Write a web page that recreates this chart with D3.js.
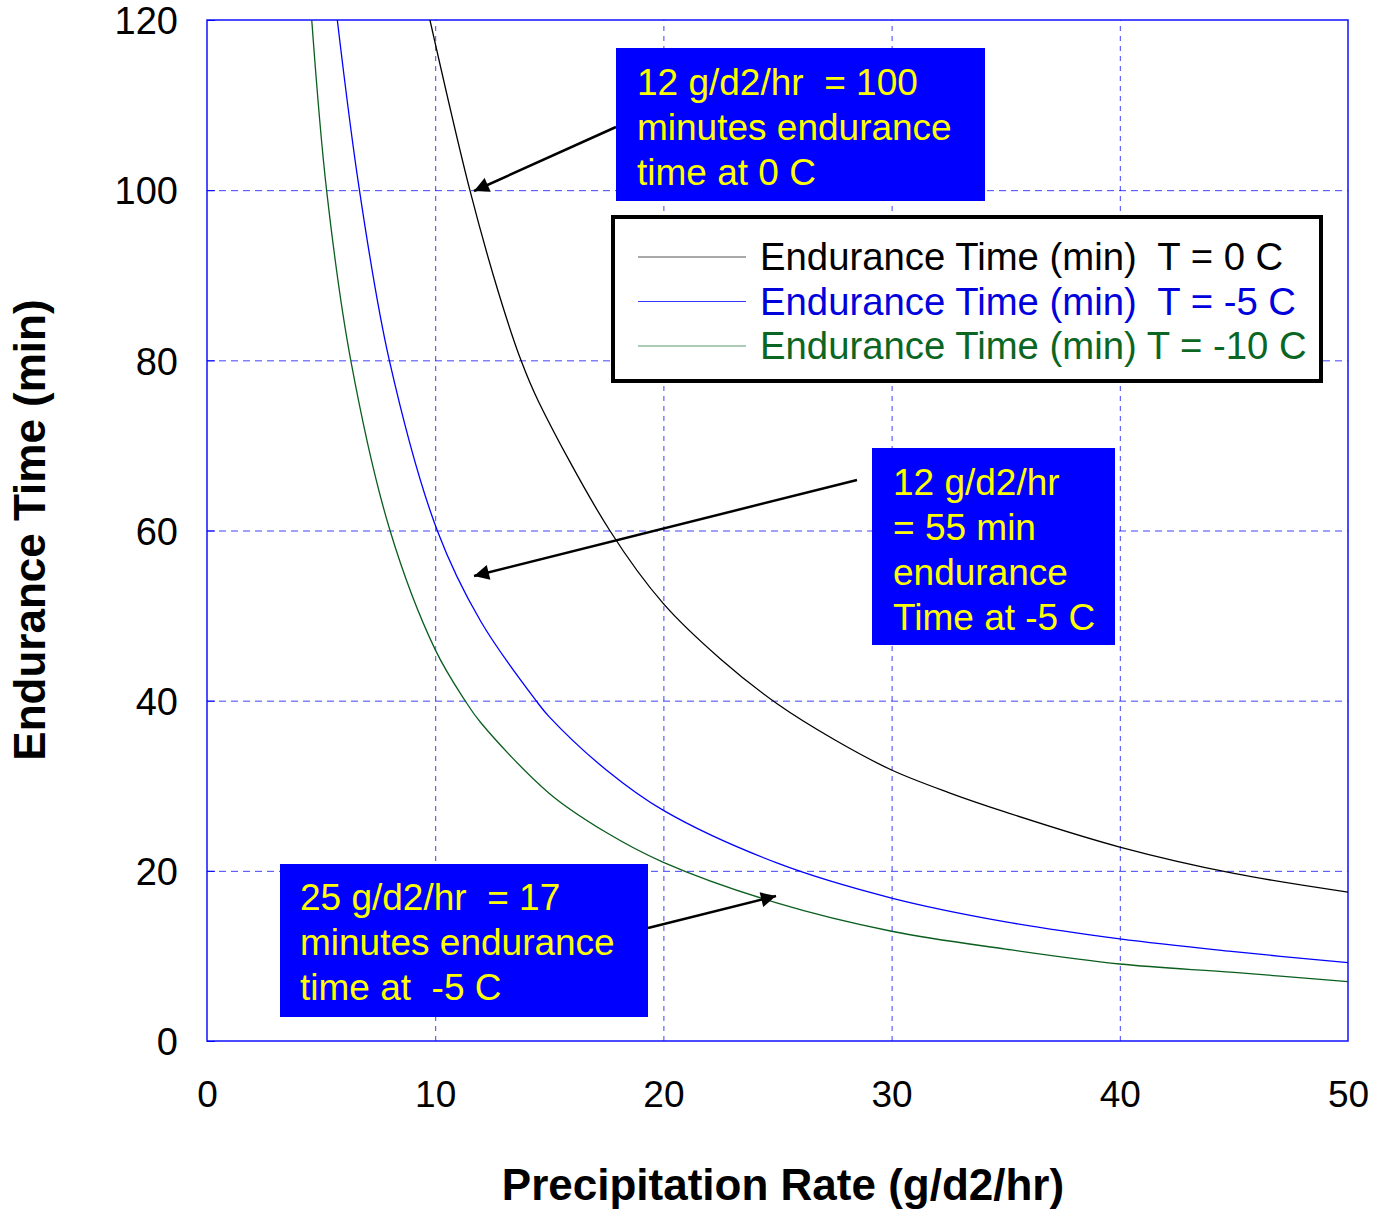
<!DOCTYPE html>
<html lang="en">
<head>
<meta charset="UTF-8">
<title>Endurance time vs precipitation rate</title>
<script src="https://d3js.org/d3.v7.min.js"></script>
<style>
body { margin: 0; background: #fff; }
svg text { font-family: "Liberation Sans", Arial, sans-serif; }
.tick text { font-size: 37px; fill: #000; }
.grid line { stroke: #0000ff; stroke-opacity: 0.75; stroke-width: 1; }
.grid .domain { display: none; }
.axisTitle { font-size: 44px; font-weight: bold; }
.note text { font-size: 37px; fill: #ffff00; }
.legend text { font-size: 38.3px; }
</style>
</head>
<body>
<svg id="chart" width="1376" height="1211"></svg>
<script>
  // values: [precip rate, endurance minutes]
  var seriesT0 = [[9.77,120],[11.52,100],[12.77,88.0],[13.76,80],[14.52,75.2],[17.65,60],[20,51.4],
                  [22.5,44.9],[25,39.6],[27.5,35.4],[30,31.85],[32.5,29.2],[35,26.9],[40,22.8],[45,19.7],[50,17.5]];
  var seriesTm5 = [[5.71,120],[6.68,100],[7.99,80],[10.09,60],[12,49.3],[14.42,40],[15,38.1],[17.5,31.85],
                   [20,27.1],[25,20.9],[30,16.8],[35,14.0],[40,12.0],[45,10.5],[50,9.2]];
  var seriesTm10 = [[4.59,120],[5.24,100],[6.30,80],[8.02,60],[10,46.0],[11.31,40],[12,37.4],[15,29.1],
                    [17.5,24.5],[20,21.0],[25,16.2],[30,12.9],[35,10.8],[40,9.05],[45,8.06],[50,6.98]];

  var seriesNames = ["Endurance Time (min)  T = 0 C", "Endurance Time (min)  T = -5 C", "Endurance Time (min) T = -10 C"];
  var xTicks = [0, 10, 20, 30, 40, 50];
  var yTicks = [0, 20, 40, 60, 80, 100, 120];

  var notes = [
    ["12 g/d2/hr  = 100", "minutes endurance", "time at 0 C"],
    ["12 g/d2/hr", "= 55 min", "endurance", "Time at -5 C"],
    ["25 g/d2/hr  = 17", "minutes endurance", "time at  -5 C"]
  ];

  var svg = d3.select("#chart");

  var x = d3.scaleLinear().domain([0, 50]).range([207, 1348]);
  var y = d3.scaleLinear().domain([0, 120]).range([1041, 20]);

  // gridlines
  svg.append("g")
    .attr("class", "grid")
    .attr("transform", "translate(0,1041)")
    .call(d3.axisBottom(x).tickValues(xTicks.slice(1, -1)).tickSize(-1021).tickFormat(""))
    .selectAll("line").attr("stroke-dasharray", "5,5");

  svg.append("g")
    .attr("class", "grid")
    .attr("transform", "translate(207,0)")
    .call(d3.axisLeft(y).tickValues(yTicks.slice(1, -1)).tickSize(-1141).tickFormat(""))
    .selectAll("line").attr("stroke-dasharray", "7,5");

  // frame
  svg.append("rect")
    .attr("x", x(0)).attr("y", y(120))
    .attr("width", x(50) - x(0)).attr("height", y(0) - y(120))
    .attr("fill", "none").attr("stroke", "#1010ff").attr("stroke-width", 1.5);

  // tick labels
  var xAxis = svg.append("g")
    .attr("transform", "translate(0,1041)")
    .call(d3.axisBottom(x).tickValues(xTicks).tickSize(0).tickPadding(40).tickFormat(d3.format("d")));
  xAxis.select(".domain").remove();

  var yAxis = svg.append("g")
    .attr("transform", "translate(207,0)")
    .call(d3.axisLeft(y).tickValues(yTicks).tickSize(-8).tickPadding(29).tickFormat(d3.format("d")));
  yAxis.select(".domain").remove();
  yAxis.selectAll("line").attr("stroke", "#0000ff");
  yAxis.selectAll("text").attr("dy", "0.36em").style("font-size", "38px");

  // curves
  svg.append("clipPath").attr("id", "plotClip")
    .append("rect").attr("x", x(0)).attr("y", y(120))
    .attr("width", x(50) - x(0)).attr("height", y(0) - y(120));

  var line = d3.line()
    .x(function(d) { return x(d[0]); })
    .y(function(d) { return y(d[1]); })
    .curve(d3.curveCatmullRom.alpha(0.5));

  var curves = [
    { data: seriesT0, color: "#000000" },
    { data: seriesTm5, color: "#0000ff" },
    { data: seriesTm10, color: "#0a5e1e" }
  ];

  svg.append("g").attr("clip-path", "url(#plotClip)")
    .selectAll("path")
    .data(curves)
    .enter().append("path")
      .attr("d", function(d) { return line(d.data); })
      .attr("fill", "none")
      .attr("stroke", function(d) { return d.color; })
      .attr("stroke-width", 1.3);

  // axis titles
  svg.append("text")
    .attr("class", "axisTitle")
    .attr("x", 783).attr("y", 1200)
    .attr("text-anchor", "middle")
    .text("Precipitation Rate (g/d2/hr)");

  svg.append("text")
    .attr("class", "axisTitle")
    .attr("transform", "translate(45,530) rotate(-90)")
    .attr("text-anchor", "middle")
    .text("Endurance Time (min)");

  // legend
  var legend = svg.append("g").attr("class", "legend");
  legend.append("rect")
    .attr("x", 613).attr("y", 217).attr("width", 708).attr("height", 164)
    .attr("fill", "#fff").attr("stroke", "#000").attr("stroke-width", 4);

  var legendLine = ["#555555", "#3333ff", "#5a9a6a"];
  var legendText = ["#000000", "#0000dd", "#0b6623"];
  seriesNames.forEach(function(name, i) {
    var ly = 257 + i * 44.5;
    legend.append("line")
      .attr("x1", 638).attr("x2", 746).attr("y1", ly).attr("y2", ly)
      .attr("stroke", legendLine[i]).attr("stroke-width", 1.2);
    legend.append("text")
      .attr("x", 760).attr("y", ly + 13)
      .attr("fill", legendText[i])
      .style("white-space", "pre")
      .text(name);
  });

  // arrows
  svg.append("defs").append("marker")
    .attr("id", "head")
    .attr("viewBox", "0 0 10 10")
    .attr("refX", 10).attr("refY", 5)
    .attr("markerWidth", 7).attr("markerHeight", 6)
    .attr("markerUnits", "strokeWidth")
    .attr("orient", "auto")
    .append("path").attr("d", "M0,0 L10,5 L0,10 z").attr("fill", "#000");

  var arrows = [
    [616, 127, 474, 191],
    [857, 480, 474, 576],
    [648, 928, 776, 896]
  ];
  svg.append("g").selectAll("line")
    .data(arrows)
    .enter().append("line")
      .attr("x1", function(d) { return d[0]; })
      .attr("y1", function(d) { return d[1]; })
      .attr("x2", function(d) { return d[2]; })
      .attr("y2", function(d) { return d[3]; })
      .attr("stroke", "#000").attr("stroke-width", 2.5)
      .attr("marker-end", "url(#head)");

  // annotation boxes
  var boxes = [
    { x: 616, y: 48, w: 369, h: 153, tx: 637, ty: 95 },
    { x: 872, y: 448, w: 243, h: 197, tx: 893, ty: 495 },
    { x: 280, y: 864, w: 368, h: 153, tx: 300, ty: 910 }
  ];
  boxes.forEach(function(b, i) {
    var g = svg.append("g").attr("class", "note");
    g.append("rect").attr("x", b.x).attr("y", b.y).attr("width", b.w).attr("height", b.h)
      .attr("fill", "#0000ff");
    notes[i].forEach(function(t, j) {
      g.append("text")
        .attr("x", b.tx).attr("y", b.ty + j * 45)
        .style("white-space", "pre")
        .text(t);
    });
  });
</script>
</body>
</html>
